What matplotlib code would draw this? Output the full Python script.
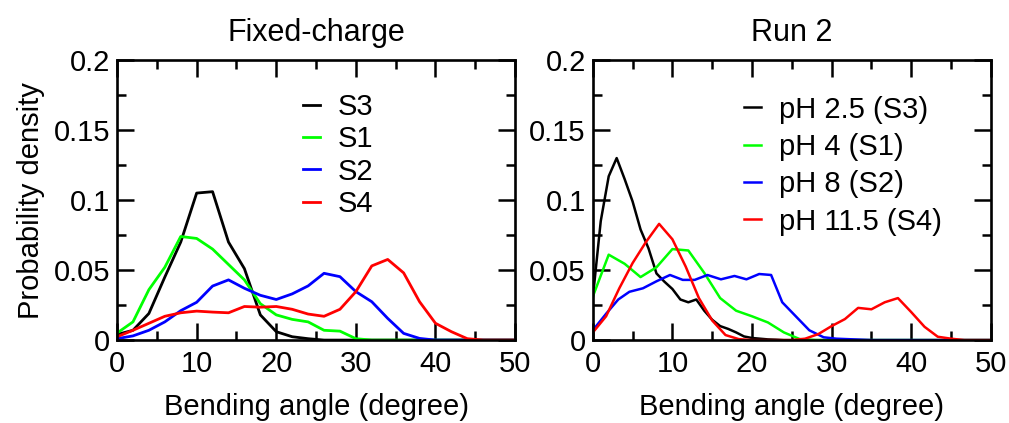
import matplotlib
matplotlib.use("Agg")
import matplotlib.pyplot as plt
from matplotlib.ticker import MultipleLocator, FuncFormatter

plt.rcParams['font.family'] = ['Liberation Sans', 'DejaVu Sans']
plt.rcParams['font.size'] = 21

# Fixed-charge: histograms on a 2 degree grid
angle_fixed = list(range(0, 52, 2))
s3_fixed = [0.004, 0.007, 0.019, 0.045, 0.070, 0.105, 0.106, 0.070, 0.051, 0.018,
            0.006, 0.0024, 0.001, 0, 0, 0, 0, 0, 0, 0, 0, 0, 0, 0, 0, 0]
s1_fixed = [0.005, 0.013, 0.036, 0.052, 0.074, 0.0726, 0.065, 0.054, 0.043, 0.026,
            0.018, 0.0148, 0.013, 0.007, 0.0064, 0.001, 0, 0, 0, 0, 0, 0, 0, 0, 0, 0]
s2_fixed = [0.001, 0.003, 0.007, 0.013, 0.021, 0.027, 0.0386, 0.043, 0.037, 0.032,
            0.029, 0.033, 0.0387, 0.0477, 0.0453, 0.0346, 0.0274, 0.0155, 0.0048, 0.0012,
            0, 0, 0, 0, 0, 0]
s4_fixed = [0.0024, 0.007, 0.012, 0.017, 0.0195, 0.0207, 0.020, 0.0195, 0.024, 0.0235,
            0.024, 0.022, 0.0186, 0.017, 0.022, 0.0346, 0.053, 0.0576, 0.048, 0.0274,
            0.012, 0.006, 0.001, 0, 0, 0]
labels_fixed = ["S3", "S1", "S2", "S4"]

# Run 2: each pH run was binned differently
angle_ph25 = list(range(0, 51))
ph25 = [0.030, 0.085, 0.117, 0.130, 0.115, 0.099, 0.079, 0.0655, 0.0476, 0.0417,
        0.0365, 0.029, 0.027, 0.029, 0.021, 0.0145, 0.010, 0.008, 0.0055, 0.0026,
        0.0015, 0.001, 0.0005, 0.0003] + [0] * 27
angle_ph4 = list(range(0, 52, 2))
ph4 = [0.031, 0.061, 0.0545, 0.045, 0.052, 0.065, 0.064, 0.048, 0.030, 0.021,
       0.017, 0.0126, 0.0055, 0.0007, 0, 0, 0, 0, 0, 0, 0, 0, 0, 0, 0, 0]
angle_ph8 = [0, 1.7, 3.2, 4.6, 6.3, 8.0, 9.7, 11.3, 12.8, 14.4, 16.1, 17.8, 19.3,
             20.9, 22.4, 23.8, 25.5, 27.2, 29.0, 30.6, 35, 40, 45, 50]
ph8 = [0.007, 0.019, 0.029, 0.0345, 0.037, 0.042, 0.0465, 0.043, 0.043, 0.0465,
       0.0434, 0.0458, 0.0434, 0.0472, 0.0465, 0.027, 0.017, 0.007, 0.002, 0.001,
       0, 0, 0, 0]
angle_ph115 = [0, 1.67, 3.33, 5, 6.67, 8.33, 10, 11.67, 13.33, 15, 16.67, 18.33, 20,
               21.67, 23.33, 25, 26.67, 28.33, 30, 31.67, 33.33, 35, 36.67, 38.33, 40,
               41.67, 43.33, 45, 46.67, 48.33, 50]
ph115 = [0.0054, 0.017, 0.037, 0.055, 0.070, 0.083, 0.072, 0.0525, 0.030, 0.014,
         0.0036, 0.0007, 0, 0, 0, 0, 0.001, 0.0043, 0.010, 0.015, 0.023, 0.022, 0.027,
         0.030, 0.020, 0.0095, 0.0024, 0.001, 0, 0, 0]
labels_run2 = ["pH 2.5 (S3)", "pH 4 (S1)", "pH 8 (S2)", "pH 11.5 (S4)"]

colors = ["black", "#00ff00", "#0000ff", "#ff0000"]

fig = plt.figure(figsize=(10.09, 4.23), dpi=100)
ax1 = fig.add_axes([0.116, 0.196, 0.3945, 0.662])
ax2 = fig.add_axes([0.5875, 0.196, 0.3945, 0.662])

for y, lab, c in zip([s3_fixed, s1_fixed, s2_fixed, s4_fixed], labels_fixed, colors):
    ax1.plot(angle_fixed, y, color=c, lw=2.0, label=lab)

run2 = [(angle_ph25, ph25), (angle_ph4, ph4), (angle_ph8, ph8), (angle_ph115, ph115)]
for (x, y), lab, c in zip(run2, labels_run2, colors):
    ax2.plot(x, y, color=c, lw=1.8, label=lab)

fmt = FuncFormatter(lambda v, p: "%g" % round(v, 3))
for ax in (ax1, ax2):
    ax.set_xlim(0, 50)
    ax.set_ylim(0, 0.2)
    ax.xaxis.set_major_locator(MultipleLocator(10))
    ax.xaxis.set_minor_locator(MultipleLocator(5))
    ax.yaxis.set_major_locator(MultipleLocator(0.05))
    ax.yaxis.set_minor_locator(MultipleLocator(0.025))
    ax.yaxis.set_major_formatter(fmt)
    ax.tick_params(which="both", direction="in", top=True, right=True, width=1.8)
    ax.tick_params(which="major", length=12)
    ax.tick_params(which="minor", length=6.5)
    ax.tick_params(axis="x", pad=7)
    ax.tick_params(axis="y", pad=5)
    for s in ax.spines.values():
        s.set_linewidth(1.9)
    ax.set_xlabel("Bending angle (degree)", labelpad=11)

ax1.set_ylabel("Probability density", labelpad=6)
ax1.set_title("Fixed-charge", pad=14, fontsize=22)
ax2.set_title("Run 2", pad=14, fontsize=22)

ax1.legend(loc="upper left", bbox_to_anchor=(0.43, 0.935), frameon=False,
           handlelength=0.6, handletextpad=0.6, labelspacing=0.15, borderpad=0)
ax2.legend(loc="upper left", bbox_to_anchor=(0.342, 0.925), frameon=False,
           handlelength=0.6, handletextpad=0.6, labelspacing=0.32, borderpad=0)

fig.savefig("out.png", dpi=100)
